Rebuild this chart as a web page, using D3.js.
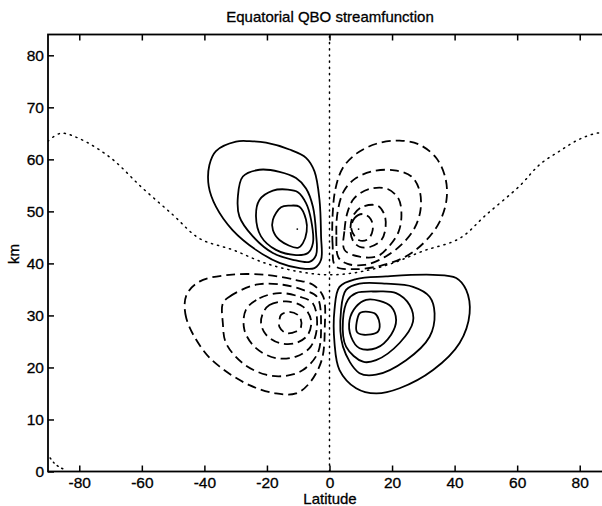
<!DOCTYPE html>
<html>
<head>
<meta charset="utf-8">
<script src="https://cdn.jsdelivr.net/npm/d3@7"></script>
<style>
  html, body { margin: 0; padding: 0; background: #fff; }
  svg { display: block; }
  text { font-family: "Liberation Sans", Arial, Helvetica, sans-serif; fill: #000; stroke: #000; stroke-width: 0.3px; }
</style>
</head>
<body>
<svg id="chart" width="602" height="506"></svg>
<script>
// Axis ticks
const latTicks = [-80, -60, -40, -20, 0, 20, 40, 60, 80];
const kmTicks = [0, 10, 20, 30, 40, 50, 60, 70, 80];

// Positive streamfunction contours (solid), as [latitude, km] rings
const upperWestRings = [
  [[-29.9,63.4],[-36.3,61.6],[-38.4,58.9],[-38.6,54.8],[-36.3,50.9],[-31.0,46.4],[-23.5,42.6],[-16.0,40.1],[-9.6,39.1],[-4.8,39.1],[-2.7,40.7],[-2.7,45.2],[-3.2,52.2],[-4.8,57.7],[-7.5,60.3],[-12.8,61.9],[-20.3,63.2],[-25.6,63.5]],
  [[-27.7,56.7],[-29.3,52.8],[-28.8,49.0],[-24.5,45.2],[-18.1,42.0],[-11.7,40.7],[-6.4,40.3],[-4.3,41.6],[-4.3,45.8],[-5.3,50.9],[-7.5,54.4],[-10.7,56.4],[-16.0,57.6],[-22.4,58.0]],
  [[-22.4,52.2],[-23.5,49.0],[-21.9,45.2],[-17.1,42.6],[-10.7,41.6],[-6.9,42.0],[-5.3,43.9],[-5.9,48.4],[-7.5,51.6],[-10.1,53.7],[-13.3,54.2],[-18.1,54.0]],
  [[-15.5,50.8],[-18.1,48.4],[-18.1,46.4],[-16.0,44.5],[-10.1,43.0],[-8.5,43.9],[-7.3,46.1],[-7.5,48.4],[-9.6,50.9],[-12.8,51.1]]
];
const lowerEastRings = [
  [[3.2,35.5],[1.6,31.1],[1.6,24.7],[3.2,19.5],[8.5,16.0],[14.9,15.0],[22.4,16.0],[33.1,19.5],[41.6,24.7],[44.8,30.4],[43.7,34.9],[40.5,37.2],[33.1,37.8],[18.1,37.5],[8.5,37.0]],
  [[5.3,34.9],[3.7,31.1],[4.3,24.0],[9.6,18.9],[14.9,18.6],[24.5,21.4],[32.0,25.9],[33.6,30.4],[32.0,33.6],[26.7,35.5],[18.1,36.1],[9.6,36.1]],
  [[5.9,33.0],[4.3,29.1],[5.3,24.0],[10.7,21.1],[14.9,21.4],[22.4,24.7],[26.7,28.8],[25.6,32.0],[21.3,34.3],[14.9,34.6],[8.5,34.3]],
  [[8.5,31.7],[6.4,29.1],[6.9,25.9],[9.6,23.7],[14.9,23.7],[19.7,26.3],[21.3,29.1],[19.7,31.7],[16.0,32.8],[11.7,33.0]],
  [[9.6,30.4],[8.7,26.9],[10.7,26.3],[15.5,26.9],[15.8,29.1],[14.4,30.4],[10.7,30.7]]
];

// Negative streamfunction contours (dashed)
const upperEastRings = [
  [[1.9,39.5],[1.0,43.6],[1.0,49.3],[1.9,54.3],[4.2,58.3],[8.6,61.1],[15.0,63.0],[22.4,63.6],[28.8,62.8],[34.2,60.2],[37.1,56.3],[37.4,52.2],[35.2,48.0],[30.4,44.1],[24.0,41.2],[16.0,39.5],[8.0,38.9]],
  [[2.9,41.1],[2.2,45.5],[2.6,49.9],[4.5,53.8],[8.0,56.2],[13.8,57.7],[20.8,57.9],[26.2,56.7],[28.8,54.0],[29.1,50.3],[27.2,46.8],[23.0,43.6],[17.6,41.2],[11.2,39.7],[5.8,39.9]],
  [[4.8,42.6],[4.8,46.4],[5.8,49.9],[8.0,52.6],[12.8,54.3],[18.6,54.3],[22.1,52.4],[23.0,49.3],[22.1,46.1],[19.2,43.4],[15.4,41.4],[9.6,41.3]],
  [[7.4,44.5],[6.7,46.8],[7.7,49.3],[10.6,50.9],[15.4,51.1],[17.6,49.3],[17.9,46.8],[16.6,44.5],[13.1,43.2],[9.6,43.2]],
  [[7.0,46.6],[8.0,48.7],[10.6,49.5],[13.2,48.5],[13.8,46.4],[12.2,44.6],[9.3,44.5]]
];
const lowerWestRings = [
  [[-40.5,23.4],[-45.8,29.5],[-45.8,33.8],[-41.6,36.5],[-32.0,37.8],[-20.3,37.8],[-10.7,36.8],[-5.3,35.9],[-2.0,33.6],[-1.5,27.8],[-2.5,21.4],[-6.4,17.0],[-10.7,15.0],[-17.1,15.0],[-25.6,16.6],[-35.2,20.2]],
  [[-34.1,32.3],[-32.0,33.6],[-23.5,35.9],[-14.9,35.9],[-8.5,34.9],[-4.0,33.6],[-2.7,27.8],[-3.8,22.7],[-8.5,19.5],[-13.9,18.4],[-20.3,18.6],[-27.7,20.8],[-33.1,24.7],[-34.1,28.5]],
  [[-26.7,31.1],[-22.4,33.3],[-16.0,34.3],[-9.6,33.6],[-5.3,32.3],[-4.0,27.8],[-6.0,24.0],[-10.7,22.1],[-17.1,21.8],[-23.5,23.7],[-27.2,27.2]],
  [[-21.3,30.4],[-19.2,32.0],[-13.9,32.7],[-8.5,31.7],[-5.9,29.1],[-6.9,26.3],[-10.7,24.7],[-16.0,24.7],[-20.3,26.3],[-21.9,28.5]],
  [[-15.5,30.1],[-12.8,30.7],[-9.6,29.8],[-9.1,27.8],[-10.7,26.9],[-13.9,26.6],[-16.0,27.8],[-16.0,29.1]]
];

// Dotted reference curve across all latitudes
const dottedCurve = [[-90,63.5],[-86,65.0],[-80,64.0],[-70,60.3],[-60,54.6],[-50,49.3],[-41.6,44.8],[-30.9,42.6],[-20.3,40.0],[-9.6,38.4],[0,37.8],[10,38.4],[20,40.0],[30,42.4],[41.6,44.8],[50,49.3],[60.8,54.9],[67.2,59.0],[73.6,61.6],[80,63.9],[86.4,65.1],[90,64.6]];
// Small dotted curve in the south-polar corner
const polarCorner = [[-89.3,2.6],[-88,1.6],[-86.5,0.9],[-84.8,0.4]];
// Equator line
const equatorLine = [[0,0],[0,84]];
// Cell-centre marks
const centreMarks = [[-10.3,46.6],[9.3,46.6]];

const svg = d3.select("#chart");
const plotLeft = 48, plotRight = 611, plotTop = 34.5, plotBottom = 471.5;

const x = d3.scaleLinear().domain([-90, 90]).range([plotLeft, plotRight]);
const y = d3.scaleLinear().domain([0, 84]).range([plotBottom, plotTop]);

svg.append("defs").append("clipPath").attr("id", "plotClip")
  .append("rect").attr("x", plotLeft).attr("y", plotTop)
  .attr("width", plotRight - plotLeft).attr("height", plotBottom - plotTop);

const plot = svg.append("g").attr("clip-path", "url(#plotClip)");

const ringLine = d3.line().x(d => x(d[0])).y(d => y(d[1]))
  .curve(d3.curveCatmullRomClosed.alpha(0.5));
const openLine = d3.line().x(d => x(d[0])).y(d => y(d[1]))
  .curve(d3.curveCatmullRom.alpha(0.5));
const straight = d3.line().x(d => x(d[0])).y(d => y(d[1]));

// Dotted curves
plot.append("path").attr("d", openLine(dottedCurve))
  .attr("fill", "none").attr("stroke", "#000").attr("stroke-width", 1.5)
  .attr("stroke-dasharray", "1.2,5").attr("stroke-linecap", "round");
plot.append("path").attr("d", openLine(polarCorner))
  .attr("fill", "none").attr("stroke", "#000").attr("stroke-width", 1.5)
  .attr("stroke-dasharray", "1.2,4").attr("stroke-linecap", "round");
plot.append("path").attr("d", straight(equatorLine))
  .attr("fill", "none").attr("stroke", "#000").attr("stroke-width", 1.5)
  .attr("stroke-dasharray", "1.2,5").attr("stroke-linecap", "round");

// Solid (positive) contours
plot.selectAll("path.pos")
  .data(upperWestRings.concat(lowerEastRings))
  .join("path").attr("class", "pos")
  .attr("d", ringLine)
  .attr("fill", "none").attr("stroke", "#000").attr("stroke-width", 1.8)
  .attr("stroke-linejoin", "round");

// Dashed (negative) contours
plot.selectAll("path.neg")
  .data(upperEastRings.concat(lowerWestRings))
  .join("path").attr("class", "neg")
  .attr("d", ringLine)
  .attr("fill", "none").attr("stroke", "#000").attr("stroke-width", 1.8)
  .attr("stroke-dasharray", "9,5");

plot.selectAll("circle.mark").data(centreMarks).join("circle")
  .attr("class", "mark").attr("cx", d => x(d[0])).attr("cy", d => y(d[1]))
  .attr("r", 0.9).attr("fill", "#000");

// Axes box with inward ticks
const axes = svg.append("g");
axes.append("rect").attr("x", plotLeft).attr("y", plotTop)
  .attr("width", plotRight - plotLeft).attr("height", plotBottom - plotTop)
  .attr("fill", "none").attr("stroke", "#000").attr("stroke-width", 1.8);

const tickLen = 6;
const plainNumber = d => String(d);   // hyphen-minus, as in the original labels
axes.append("g").attr("transform", `translate(0,${plotBottom})`)
  .call(d3.axisBottom(x).tickValues(latTicks).tickFormat(plainNumber)
    .tickSizeInner(-tickLen).tickSizeOuter(0).tickPadding(5.5))
  .call(g => g.select(".domain").remove());
axes.append("g").attr("transform", `translate(0,${plotTop})`)
  .call(d3.axisTop(x).tickValues(latTicks).tickSizeInner(-tickLen).tickSizeOuter(0).tickFormat(""))
  .call(g => g.select(".domain").remove());
axes.append("g").attr("transform", `translate(${plotLeft},0)`)
  .call(d3.axisLeft(y).tickValues(kmTicks).tickFormat(plainNumber)
    .tickSizeInner(-tickLen).tickSizeOuter(0).tickPadding(4))
  .call(g => g.select(".domain").remove());

axes.selectAll(".tick line").attr("stroke", "#000").attr("stroke-width", 1.5);
axes.selectAll(".tick text").attr("font-size", 15.5).attr("font-family", "Liberation Sans, Arial, sans-serif")
  .attr("fill", "#000").attr("stroke", "#000").attr("stroke-width", 0.3);

// Titles
svg.append("text").attr("x", 330).attr("y", 22).attr("text-anchor", "middle")
  .attr("font-size", 15).text("Equatorial QBO streamfunction");
svg.append("text").attr("x", 330).attr("y", 504).attr("text-anchor", "middle")
  .attr("font-size", 15).text("Latitude");
svg.append("text").attr("transform", "translate(19,254) rotate(-90)").attr("text-anchor", "middle")
  .attr("font-size", 15).text("km");
</script>
</body>
</html>
